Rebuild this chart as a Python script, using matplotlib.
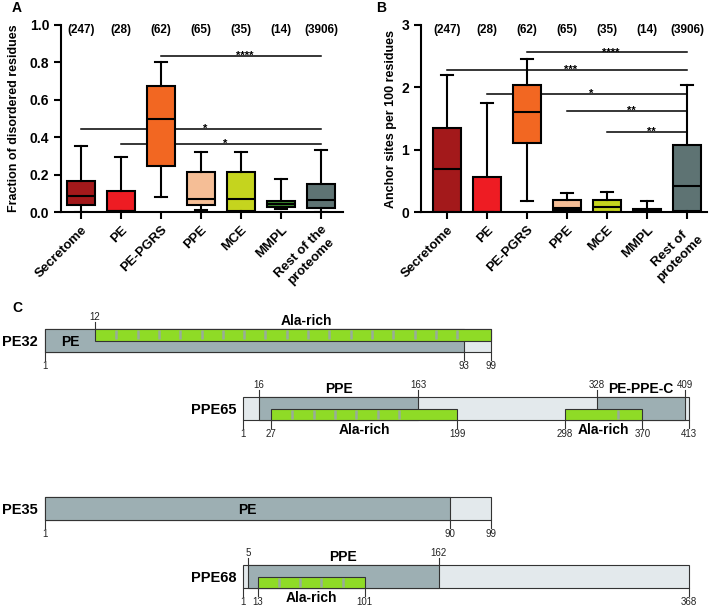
import numpy as np
import matplotlib
matplotlib.use('Agg')
import matplotlib.pyplot as plt

plt.rcParams['font.family'] = ['Liberation Sans', 'DejaVu Sans']

# ---- data for panels A and B ----
groups_a = ['Secretome', 'PE', 'PE-PGRS', 'PPE', 'MCE', 'MMPL', 'Rest of the\nproteome']
groups_b = ['Secretome', 'PE', 'PE-PGRS', 'PPE', 'MCE', 'MMPL', 'Rest of\nproteome']
counts = [247, 28, 62, 65, 35, 14, 3906]
box_colors = ['#A3191B', '#EE1C23', '#F26722', '#F5BE96', '#C5D41E', '#3C8A2E', '#5E7373']

# fraction of disordered residues (whisker low, q1, median, q3, whisker high)
a_lo = [0.0, 0.0, 0.082, 0.010, 0.0, 0.016, 0.0]
a_q1 = [0.037, 0.004, 0.248, 0.039, 0.007, 0.029, 0.021]
a_med = [0.087, 0.004, 0.496, 0.071, 0.071, 0.045, 0.064]
a_q3 = [0.168, 0.110, 0.674, 0.214, 0.212, 0.059, 0.150]
a_hi = [0.355, 0.294, 0.802, 0.319, 0.319, 0.176, 0.332]

# anchor sites per 100 residues
b_lo = [0.0, 0.0, 0.18, 0.03, 0.0, 0.0, 0.0]
b_q1 = [0.0, 0.0, 1.10, 0.04, 0.0, 0.0, 0.02]
b_med = [0.685, 0.0, 1.61, 0.07, 0.075, 0.02, 0.41]
b_q3 = [1.34, 0.556, 2.04, 0.20, 0.20, 0.05, 1.07]
b_hi = [2.20, 1.75, 2.45, 0.31, 0.32, 0.17, 2.04]

# significance brackets: (from group, to group, height, label)
sig_a = [(3, 7, 0.836, '****'), (1, 7, 0.446, '*'), (2, 7, 0.365, '*')]
sig_b = [(3, 7, 2.56, '****'), (1, 7, 2.28, '***'), (2, 7, 1.89, '*'),
         (4, 7, 1.62, '**'), (5, 7, 1.28, '**')]

# ---- data for panel C ----
prot_names = ['PE32', 'PPE65', 'PE35', 'PPE68']
prot_len = [99, 413, 99, 368]
prot_domains = [[(1, 93, 'PE')],
                [(16, 163, 'PPE'), (328, 409, 'PE-PPE-C')],
                [(1, 90, 'PE')],
                [(5, 162, 'PPE')]]
prot_ala = [[(12, 99)], [(27, 199), (298, 370)], [], [(13, 101)]]
prot_top_marks = [[12], [16, 163, 328, 409], [], [5, 162]]
prot_bottom_marks = [[1, 93, 99], [1, 27, 199, 298, 370, 413], [1, 90, 99], [1, 13, 101, 368]]

W, H = 709, 608
fig = plt.figure(figsize=(W / 100, H / 100), dpi=100)


def box_panel(rect, xlim, ylim, yticks, yfmt, lo, q1, med, q3, hi, labels, ylabel, sigs, count_y, ylab_x):
    ax = fig.add_axes(rect)
    pos = np.arange(1, 8)
    stats = [dict(whislo=lo[i], q1=q1[i], med=med[i], q3=q3[i], whishi=hi[i], fliers=[])
             for i in range(7)]
    bp = ax.bxp(stats, positions=pos, widths=0.7, patch_artist=True, showfliers=False,
                boxprops=dict(linewidth=1.5, edgecolor='black'),
                medianprops=dict(color='black', linewidth=1.5),
                whiskerprops=dict(linewidth=1.5), capprops=dict(linewidth=1.5),
                capwidths=0.3, zorder=3)
    for patch, c in zip(bp['boxes'], box_colors):
        patch.set_facecolor(c)
    for g0, g1, h, lab in sigs:
        ax.plot([g0, g1], [h, h], color='black', lw=1.1, zorder=1, clip_on=False)
        ax.text((g0 + g1) / 2 + 0.1, h, lab, ha='center', va='center', fontsize=8,
                fontweight='bold', zorder=4)
    for p, n in zip(pos, counts):
        ax.text(p, count_y, '(%d)' % n, ha='center', va='center', fontsize=8.5, fontweight='bold')
    ax.set_xlim(*xlim)
    ax.set_ylim(*ylim)
    ax.set_yticks(yticks)
    ax.set_yticklabels([yfmt % t for t in yticks], fontsize=10, fontweight='bold')
    ax.set_xticks(pos)
    ax.set_xticklabels(labels, rotation=45, ha='right', rotation_mode='anchor',
                       fontsize=9.5, fontweight='bold', multialignment='center')
    ax.set_ylabel(ylabel, fontsize=9, fontweight='bold')
    ax.yaxis.set_label_coords(ylab_x, 0.5)
    for s in ['top', 'right']:
        ax.spines[s].set_visible(False)
    for s in ['left', 'bottom']:
        ax.spines[s].set_linewidth(1.5)
    ax.tick_params(width=1.5, length=5)
    return ax


box_panel([61 / W, (H - 212) / H, 282 / W, 187 / H], (0.5, 7.55), (0, 1.0),
          [0, 0.2, 0.4, 0.6, 0.8, 1.0], '%.1f', a_lo, a_q1, a_med, a_q3, a_hi,
          groups_a, 'Fraction of disordered residues', sig_a, 0.973, -0.145)
box_panel([421 / W, (H - 212) / H, 286 / W, 187 / H], (0.35, 7.5), (0, 3),
          [0, 1, 2, 3], '%d', b_lo, b_q1, b_med, b_q3, b_hi,
          groups_b, 'Anchor sites per 100 residues', sig_b, 2.92, -0.085)

fig.text(12 / W, 1 - 8 / H, 'A', fontsize=10, fontweight='bold', va='center')
fig.text(376 / W, 1 - 8 / H, 'B', fontsize=10, fontweight='bold', va='center')
fig.text(12 / W, 1 - 308 / H, 'C', fontsize=10, fontweight='bold', va='center')

# ---- panel C: domain maps ----
light = '#E3E9EC'
dark = '#9DAFB3'
green = '#8FDB26'
sep = '#98AC9C'
edge = '#333333'
row_left = [45, 243, 45, 243]
row_top = [329, 397, 497, 565]
row_w = 446
bar_h = 23
ala_upper = [True, False, False, False]
label_inside = [True, False, True, False]
seg_px = 21.3

for i, name in enumerate(prot_names):
    L = prot_len[i]
    ax = fig.add_axes([row_left[i] / W, (H - row_top[i] - 2 * bar_h) / H, row_w / W, 3 * bar_h / H])
    ax.set_xlim(1, L)
    ax.set_ylim(-1, 2)
    ax.axis('off')
    kw = dict(edgecolor=edge, linewidth=0.8, clip_on=False)
    ax.barh(0.5, L - 1, left=1, height=1, color=light, **kw)
    for s, e, lab in prot_domains[i]:
        ax.barh(0.5, e - s, left=s, height=1, color=dark, **kw)
    px_res = row_w / (L - 1)
    y0, y1 = (0.5, 1.0) if ala_upper[i] else (0.0, 0.5)
    for s, e in prot_ala[i]:
        ax.barh((y0 + y1) / 2, e - s, left=s, height=y1 - y0, color=green, **kw)
        # repeat blocks where the Ala-rich stretch lies inside a domain
        for ds, de, _ in prot_domains[i]:
            o0, o1 = max(s, ds), min(e, de)
            if o1 <= o0:
                continue
            step = seg_px / px_res
            xs = np.arange(o0 + step, o1 - 0.3 * step, step)
            ax.vlines(xs, y0 + 0.06, y1 - 0.06, color=sep, lw=1.8, zorder=3)
    for m in prot_bottom_marks[i]:
        ax.plot([m, m], [0, -0.35], color=edge, lw=0.8, clip_on=False)
        ax.text(m, -0.4, str(m), ha='center', va='top', fontsize=7, color='#222222')
    for m in prot_top_marks[i]:
        ax.plot([m, m], [1, 1.3], color=edge, lw=0.8, clip_on=False)
        ax.text(m, 1.32, str(m), ha='center', va='bottom', fontsize=7, color='#222222')
    for s, e, lab in prot_domains[i]:
        if label_inside[i]:
            xa = (s + prot_ala[i][0][0]) / 2 if ala_upper[i] else (s + e) / 2
            ax.text(xa, 0.45, lab, ha='center', va='center', fontsize=10, fontweight='bold')
        else:
            ax.text((s + e) / 2, 1.05, lab, ha='center', va='bottom', fontsize=10, fontweight='bold')
    for s, e in prot_ala[i]:
        if ala_upper[i]:
            ax.text((s + e) / 2 + 3, 1.05, 'Ala-rich', ha='center', va='bottom', fontsize=10, fontweight='bold')
        else:
            ax.text((s + e) / 2, -0.15, 'Ala-rich', ha='center', va='top', fontsize=10, fontweight='bold')
    ax.annotate(name, xy=(1, 0.45), xytext=(-5, 0), textcoords='offset points',
                ha='right', va='center', fontsize=10.5, fontweight='bold', annotation_clip=False)

fig.savefig('out.png', dpi=100)
